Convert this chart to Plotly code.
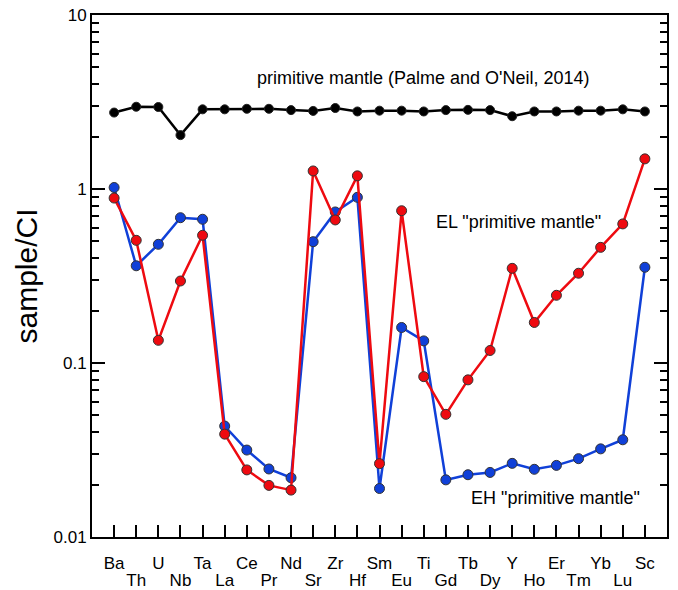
import plotly.graph_objects as go

elements = ["Ba", "Th", "U", "Nb", "Ta", "La", "Ce", "Pr", "Nd", "Sr", "Zr", "Hf", "Sm",
            "Eu", "Ti", "Gd", "Tb", "Dy", "Y", "Ho", "Er", "Tm", "Yb", "Lu", "Sc"]

primitive_mantle = [2.75, 2.97, 2.96, 2.04, 2.87, 2.87, 2.89, 2.89, 2.84, 2.81, 2.92, 2.79, 2.82,
                    2.82, 2.79, 2.84, 2.85, 2.84, 2.62, 2.79, 2.79, 2.82, 2.82, 2.87, 2.79]

eh_pm = [1.02, 0.362, 0.481, 0.684, 0.67, 0.0434, 0.0316, 0.0246, 0.0219, 0.498, 0.738, 0.896, 0.019,
         0.160, 0.134, 0.0213, 0.0228, 0.0235, 0.0265, 0.0245, 0.0258, 0.0282, 0.0321, 0.0362, 0.355]

el_pm = [0.887, 0.507, 0.135, 0.296, 0.542, 0.039, 0.0243, 0.0198, 0.0186, 1.27, 0.664, 1.19, 0.0264,
         0.75, 0.0835, 0.0507, 0.080, 0.118, 0.35, 0.171, 0.245, 0.328, 0.462, 0.63, 1.49]

y_tick_vals = [0.01, 0.1, 1, 10]
y_tick_text = ["0.01", "0.1", "1", "10"]

FONT = "Liberation Sans, Arial, sans-serif"

fig = go.Figure()

fig.add_trace(go.Scatter(
    x=elements, y=primitive_mantle, mode="lines+markers",
    line=dict(color="black", width=2.5),
    marker=dict(color="black", size=9, line=dict(color="#222", width=1)),
    showlegend=False))

fig.add_trace(go.Scatter(
    x=elements, y=eh_pm, mode="lines+markers",
    line=dict(color="#1040d8", width=2.5),
    marker=dict(color="#1040d8", size=10, line=dict(color="#333", width=1)),
    showlegend=False))

fig.add_trace(go.Scatter(
    x=elements, y=el_pm, mode="lines+markers",
    line=dict(color="#ee0a10", width=2.5),
    marker=dict(color="#ee0a10", size=10, line=dict(color="#333", width=1)),
    showlegend=False))

# invisible helper trace so the second (label-only) x axis is drawn
fig.add_trace(go.Scatter(
    x=elements, y=primitive_mantle, xaxis="x2", mode="markers",
    marker=dict(opacity=0), hoverinfo="skip", showlegend=False))

even_labels = [e if i % 2 == 0 else "" for i, e in enumerate(elements)]
odd_elements = [e for i, e in enumerate(elements) if i % 2 == 1]

tickfont = dict(family=FONT, size=17, color="black")

fig.update_layout(
    xaxis=dict(
        type="category", range=[-1, 25],
        tickvals=elements, ticktext=even_labels, tickangle=0,
        ticks="inside", ticklen=12, tickwidth=2, tickcolor="black",
        showline=True, linecolor="black", linewidth=2, mirror=True,
        showgrid=False, zeroline=False, automargin=False,
        ticklabelstandoff=10, tickfont=tickfont),
    xaxis2=dict(
        type="category", range=[-1, 25], overlaying="x", side="bottom",
        tickvals=odd_elements, ticktext=odd_elements, tickangle=0,
        ticks="", showline=False, showgrid=False, zeroline=False, automargin=False,
        ticklabelstandoff=31, tickfont=tickfont),
    yaxis=dict(
        type="log", range=[-2, 1],
        tickvals=y_tick_vals, ticktext=y_tick_text,
        ticks="inside", ticklen=13, tickwidth=2, tickcolor="black",
        minor=dict(ticks="inside", ticklen=7, tickwidth=2, tickcolor="black", dtick="D1", showgrid=False),
        showline=True, linecolor="black", linewidth=2, mirror="ticks",
        showgrid=False, zeroline=False, automargin=False,
        tickfont=tickfont,
        title=dict(text="sample/CI", font=dict(family=FONT, size=30, color="black"), standoff=7)),
)

ann_font = dict(family=FONT, size=18, color="black")
fig.add_annotation(x=14, y=0.638, xref="x", yref="y", text="primitive mantle (Palme and O'Neil, 2014)",
                   showarrow=False, font=ann_font)
fig.add_annotation(x=18.27, y=-0.19, xref="x", yref="y", text='EL "primitive mantle"',
                   showarrow=False, font=ann_font)
fig.add_annotation(x=19.94, y=-1.776, xref="x", yref="y", text='EH "primitive mantle"',
                   showarrow=False, font=ann_font)

fig.update_layout(
    width=678, height=590,
    margin=dict(l=92, r=11, t=15, b=53),
    paper_bgcolor="white", plot_bgcolor="white",
    font=dict(family=FONT, color="black"))

fig.write_html("out.html")
